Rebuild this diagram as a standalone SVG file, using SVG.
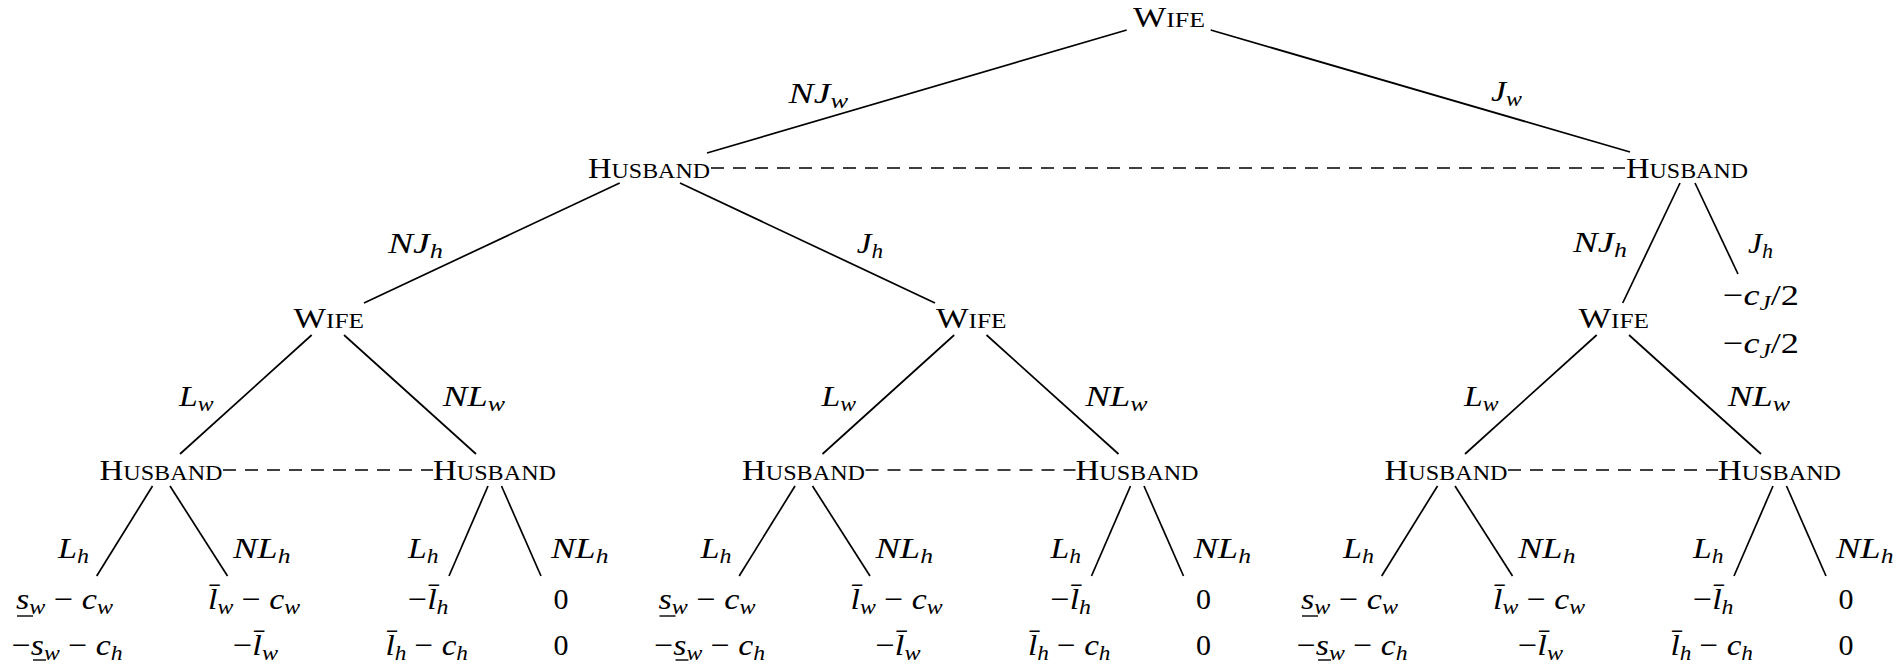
<svg xmlns="http://www.w3.org/2000/svg" width="1899" height="672" viewBox="0 0 1899 672" font-family="'Liberation Serif', 'Times New Roman', serif">
<style>
text{font-family:"Liberation Serif","Times New Roman",serif;fill:#000}
.n{font-size:30px}
.sc{font-size:22px}
.m{font-size:30px;font-style:italic}
.s{font-size:21px}
.u{font-style:normal}
.e{stroke:#000;stroke-width:1.7;fill:none}
.d{stroke:#000;stroke-width:1.5;fill:none;stroke-dasharray:13 9}
.ul{stroke:#000;stroke-width:1.4}
</style>
<rect width="1899" height="672" fill="#fff"/>
<g id="connectors">
<line class="e" x1="1126.7" y1="30" x2="707" y2="153"/>
<line class="e" x1="1210.7" y1="30" x2="1630" y2="152"/>
<line class="d" x1="711" y1="168" x2="1625" y2="168"/>
<line class="e" x1="619.7" y1="183" x2="364" y2="303"/>
<line class="e" x1="680" y1="183" x2="935" y2="303"/>
<line class="e" x1="1680" y1="183" x2="1622.7" y2="303"/>
<line class="e" x1="1695" y1="183" x2="1738" y2="274"/>
<line class="e" x1="311.7" y1="335" x2="180" y2="454"/>
<line class="e" x1="344" y1="335" x2="476" y2="454"/>
<line class="e" x1="954.2" y1="335" x2="822.5" y2="454"/>
<line class="e" x1="986.5" y1="335" x2="1118.5" y2="454"/>
<line class="e" x1="1596.7" y1="335" x2="1465" y2="454"/>
<line class="e" x1="1629" y1="335" x2="1761" y2="454"/>
<line class="d" x1="223" y1="470" x2="433" y2="470"/>
<line class="d" x1="865.5" y1="470" x2="1075.5" y2="470"/>
<line class="d" x1="1508" y1="470" x2="1718" y2="470"/>
<line class="e" x1="152.5" y1="486" x2="96.7" y2="576"/>
<line class="e" x1="170" y1="486" x2="227.5" y2="576"/>
<line class="e" x1="488" y1="486" x2="449" y2="576"/>
<line class="e" x1="501.5" y1="486" x2="541" y2="576"/>
<line class="e" x1="795" y1="486" x2="739.2" y2="576"/>
<line class="e" x1="812.5" y1="486" x2="870" y2="576"/>
<line class="e" x1="1130.5" y1="486" x2="1091.5" y2="576"/>
<line class="e" x1="1144" y1="486" x2="1183.5" y2="576"/>
<line class="e" x1="1437.5" y1="486" x2="1381.7" y2="576"/>
<line class="e" x1="1455" y1="486" x2="1512.5" y2="576"/>
<line class="e" x1="1773" y1="486" x2="1734" y2="576"/>
<line class="e" x1="1786.5" y1="486" x2="1826" y2="576"/>
</g>
<g id="edge-labels">
<text class="m" x="788.6" y="103" textLength="59.4" lengthAdjust="spacingAndGlyphs">NJ<tspan class="s" dy="5">w</tspan></text>
<text class="m" x="1491" y="101" textLength="31" lengthAdjust="spacingAndGlyphs">J<tspan class="s" dy="5">w</tspan></text>
<text class="m" x="388" y="253" textLength="55" lengthAdjust="spacingAndGlyphs">NJ<tspan class="s" dy="5">h</tspan></text>
<text class="m" x="856.7" y="253" textLength="26.3" lengthAdjust="spacingAndGlyphs">J<tspan class="s" dy="5">h</tspan></text>
<text class="m" x="1573" y="252" textLength="54" lengthAdjust="spacingAndGlyphs">NJ<tspan class="s" dy="5">h</tspan></text>
<text class="m" x="1748" y="253" textLength="25" lengthAdjust="spacingAndGlyphs">J<tspan class="s" dy="5">h</tspan></text>
<text class="m" x="179" y="406" textLength="34.5" lengthAdjust="spacingAndGlyphs">L<tspan class="s" dy="5">w</tspan></text>
<text class="m" x="442.7" y="406" textLength="62.3" lengthAdjust="spacingAndGlyphs">NL<tspan class="s" dy="5">w</tspan></text>
<text class="m" x="821.5" y="406" textLength="34.5" lengthAdjust="spacingAndGlyphs">L<tspan class="s" dy="5">w</tspan></text>
<text class="m" x="1085.2" y="406" textLength="62.3" lengthAdjust="spacingAndGlyphs">NL<tspan class="s" dy="5">w</tspan></text>
<text class="m" x="1464" y="406" textLength="34.5" lengthAdjust="spacingAndGlyphs">L<tspan class="s" dy="5">w</tspan></text>
<text class="m" x="1727.7" y="406" textLength="62.3" lengthAdjust="spacingAndGlyphs">NL<tspan class="s" dy="5">w</tspan></text>
<text class="m" x="58" y="558" textLength="31" lengthAdjust="spacingAndGlyphs">L<tspan class="s" dy="5">h</tspan></text>
<text class="m" x="233" y="558" textLength="57.5" lengthAdjust="spacingAndGlyphs">NL<tspan class="s" dy="5">h</tspan></text>
<text class="m" x="408" y="558" textLength="30.5" lengthAdjust="spacingAndGlyphs">L<tspan class="s" dy="5">h</tspan></text>
<text class="m" x="551" y="558" textLength="57.5" lengthAdjust="spacingAndGlyphs">NL<tspan class="s" dy="5">h</tspan></text>
<text class="m" x="700.5" y="558" textLength="31" lengthAdjust="spacingAndGlyphs">L<tspan class="s" dy="5">h</tspan></text>
<text class="m" x="875.5" y="558" textLength="57.5" lengthAdjust="spacingAndGlyphs">NL<tspan class="s" dy="5">h</tspan></text>
<text class="m" x="1050.5" y="558" textLength="30.5" lengthAdjust="spacingAndGlyphs">L<tspan class="s" dy="5">h</tspan></text>
<text class="m" x="1193.5" y="558" textLength="57.5" lengthAdjust="spacingAndGlyphs">NL<tspan class="s" dy="5">h</tspan></text>
<text class="m" x="1343" y="558" textLength="31" lengthAdjust="spacingAndGlyphs">L<tspan class="s" dy="5">h</tspan></text>
<text class="m" x="1518" y="558" textLength="57.5" lengthAdjust="spacingAndGlyphs">NL<tspan class="s" dy="5">h</tspan></text>
<text class="m" x="1693" y="558" textLength="30.5" lengthAdjust="spacingAndGlyphs">L<tspan class="s" dy="5">h</tspan></text>
<text class="m" x="1836" y="558" textLength="57.5" lengthAdjust="spacingAndGlyphs">NL<tspan class="s" dy="5">h</tspan></text>
</g>
<g id="root-wife"><text class="n" x="1133" y="27" textLength="72" lengthAdjust="spacingAndGlyphs">W<tspan class="sc">IFE</tspan></text></g>
<g id="husband-nj"><text class="n" x="588" y="178" textLength="122" lengthAdjust="spacingAndGlyphs">H<tspan class="sc">USBAND</tspan></text></g>
<g id="husband-j"><text class="n" x="1626" y="178" textLength="122" lengthAdjust="spacingAndGlyphs">H<tspan class="sc">USBAND</tspan></text></g>
<g id="wife-1"><text class="n" x="293.5" y="328" textLength="70.5" lengthAdjust="spacingAndGlyphs">W<tspan class="sc">IFE</tspan></text></g>
<g id="wife-2"><text class="n" x="936" y="328" textLength="70.5" lengthAdjust="spacingAndGlyphs">W<tspan class="sc">IFE</tspan></text></g>
<g id="wife-3"><text class="n" x="1578.5" y="328" textLength="70.5" lengthAdjust="spacingAndGlyphs">W<tspan class="sc">IFE</tspan></text></g>
<g id="terminal-jj"><text class="m" x="1723" y="305" textLength="76" lengthAdjust="spacingAndGlyphs"><tspan class="u">−</tspan>c<tspan class="s" dy="5">J</tspan><tspan class="u" dy="-5">/2</tspan></text><text class="m" x="1723" y="353" textLength="76" lengthAdjust="spacingAndGlyphs"><tspan class="u">−</tspan>c<tspan class="s" dy="5">J</tspan><tspan class="u" dy="-5">/2</tspan></text></g>
<g id="husband-1a"><text class="n" x="99.5" y="480" textLength="123" lengthAdjust="spacingAndGlyphs">H<tspan class="sc">USBAND</tspan></text></g>
<g id="husband-1b"><text class="n" x="433" y="480" textLength="123" lengthAdjust="spacingAndGlyphs">H<tspan class="sc">USBAND</tspan></text></g>
<g id="husband-2a"><text class="n" x="742" y="480" textLength="123" lengthAdjust="spacingAndGlyphs">H<tspan class="sc">USBAND</tspan></text></g>
<g id="husband-2b"><text class="n" x="1075.5" y="480" textLength="123" lengthAdjust="spacingAndGlyphs">H<tspan class="sc">USBAND</tspan></text></g>
<g id="husband-3a"><text class="n" x="1384.5" y="480" textLength="123" lengthAdjust="spacingAndGlyphs">H<tspan class="sc">USBAND</tspan></text></g>
<g id="husband-3b"><text class="n" x="1718" y="480" textLength="123" lengthAdjust="spacingAndGlyphs">H<tspan class="sc">USBAND</tspan></text></g>
<g id="leaf-1-1">
<text class="m" x="16" y="609" textLength="97" lengthAdjust="spacingAndGlyphs">s<tspan class="s" dy="5">w</tspan><tspan class="u" dy="-5"> − </tspan>c<tspan class="s" dy="5">w</tspan></text>
<text class="m" x="11.7" y="655" textLength="111" lengthAdjust="spacingAndGlyphs"><tspan class="u">−</tspan>s<tspan class="s" dy="5">w</tspan><tspan class="u" dy="-5"> − </tspan>c<tspan class="s" dy="5">h</tspan></text>
<line class="ul" x1="17" y1="616" x2="33" y2="616"/><line class="ul" x1="33" y1="660" x2="46" y2="660"/>
</g>
<g id="leaf-1-2">
<text class="m" x="208" y="609" textLength="92" lengthAdjust="spacingAndGlyphs">l̄<tspan class="s" dy="5">w</tspan><tspan class="u" dy="-5"> − </tspan>c<tspan class="s" dy="5">w</tspan></text>
<text class="m" x="233" y="655" textLength="45" lengthAdjust="spacingAndGlyphs"><tspan class="u">−</tspan>l̄<tspan class="s" dy="5">w</tspan></text>
</g>
<g id="leaf-1-3">
<text class="m" x="408" y="609" textLength="40.5" lengthAdjust="spacingAndGlyphs"><tspan class="u">−</tspan>l̄<tspan class="s" dy="5">h</tspan></text>
<text class="m" x="385.5" y="655" textLength="82.5" lengthAdjust="spacingAndGlyphs">l̄<tspan class="s" dy="5">h</tspan><tspan class="u" dy="-5"> − </tspan>c<tspan class="s" dy="5">h</tspan></text>
</g>
<g id="leaf-1-4">
<text class="n" x="561" y="609" text-anchor="middle">0</text>
<text class="n" x="561" y="655" text-anchor="middle">0</text>
</g>
<g id="leaf-2-1">
<text class="m" x="658.5" y="609" textLength="97" lengthAdjust="spacingAndGlyphs">s<tspan class="s" dy="5">w</tspan><tspan class="u" dy="-5"> − </tspan>c<tspan class="s" dy="5">w</tspan></text>
<text class="m" x="654.2" y="655" textLength="111" lengthAdjust="spacingAndGlyphs"><tspan class="u">−</tspan>s<tspan class="s" dy="5">w</tspan><tspan class="u" dy="-5"> − </tspan>c<tspan class="s" dy="5">h</tspan></text>
<line class="ul" x1="659.5" y1="616" x2="675.5" y2="616"/><line class="ul" x1="675.5" y1="660" x2="688.5" y2="660"/>
</g>
<g id="leaf-2-2">
<text class="m" x="850.5" y="609" textLength="92" lengthAdjust="spacingAndGlyphs">l̄<tspan class="s" dy="5">w</tspan><tspan class="u" dy="-5"> − </tspan>c<tspan class="s" dy="5">w</tspan></text>
<text class="m" x="875.5" y="655" textLength="45" lengthAdjust="spacingAndGlyphs"><tspan class="u">−</tspan>l̄<tspan class="s" dy="5">w</tspan></text>
</g>
<g id="leaf-2-3">
<text class="m" x="1050.5" y="609" textLength="40.5" lengthAdjust="spacingAndGlyphs"><tspan class="u">−</tspan>l̄<tspan class="s" dy="5">h</tspan></text>
<text class="m" x="1028" y="655" textLength="82.5" lengthAdjust="spacingAndGlyphs">l̄<tspan class="s" dy="5">h</tspan><tspan class="u" dy="-5"> − </tspan>c<tspan class="s" dy="5">h</tspan></text>
</g>
<g id="leaf-2-4">
<text class="n" x="1203.5" y="609" text-anchor="middle">0</text>
<text class="n" x="1203.5" y="655" text-anchor="middle">0</text>
</g>
<g id="leaf-3-1">
<text class="m" x="1301" y="609" textLength="97" lengthAdjust="spacingAndGlyphs">s<tspan class="s" dy="5">w</tspan><tspan class="u" dy="-5"> − </tspan>c<tspan class="s" dy="5">w</tspan></text>
<text class="m" x="1296.7" y="655" textLength="111" lengthAdjust="spacingAndGlyphs"><tspan class="u">−</tspan>s<tspan class="s" dy="5">w</tspan><tspan class="u" dy="-5"> − </tspan>c<tspan class="s" dy="5">h</tspan></text>
<line class="ul" x1="1302" y1="616" x2="1318" y2="616"/><line class="ul" x1="1318" y1="660" x2="1331" y2="660"/>
</g>
<g id="leaf-3-2">
<text class="m" x="1493" y="609" textLength="92" lengthAdjust="spacingAndGlyphs">l̄<tspan class="s" dy="5">w</tspan><tspan class="u" dy="-5"> − </tspan>c<tspan class="s" dy="5">w</tspan></text>
<text class="m" x="1518" y="655" textLength="45" lengthAdjust="spacingAndGlyphs"><tspan class="u">−</tspan>l̄<tspan class="s" dy="5">w</tspan></text>
</g>
<g id="leaf-3-3">
<text class="m" x="1693" y="609" textLength="40.5" lengthAdjust="spacingAndGlyphs"><tspan class="u">−</tspan>l̄<tspan class="s" dy="5">h</tspan></text>
<text class="m" x="1670.5" y="655" textLength="82.5" lengthAdjust="spacingAndGlyphs">l̄<tspan class="s" dy="5">h</tspan><tspan class="u" dy="-5"> − </tspan>c<tspan class="s" dy="5">h</tspan></text>
</g>
<g id="leaf-3-4">
<text class="n" x="1846" y="609" text-anchor="middle">0</text>
<text class="n" x="1846" y="655" text-anchor="middle">0</text>
</g>
</svg>
